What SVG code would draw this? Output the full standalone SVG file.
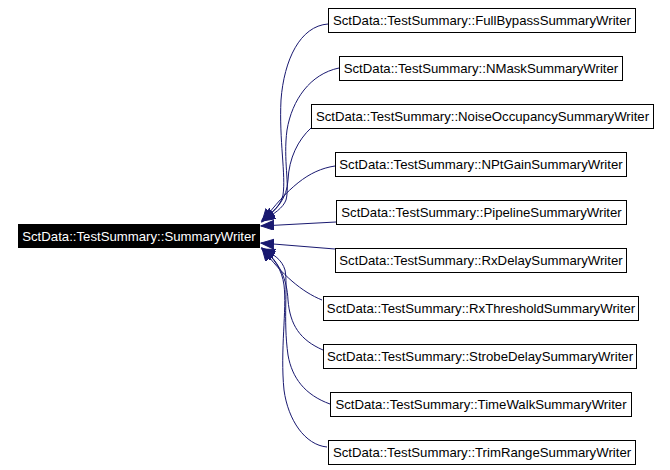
<svg xmlns="http://www.w3.org/2000/svg" width="670" height="470" viewBox="0 0 670 470">
<style>
.edge{fill:none;stroke:#191970;stroke-width:1}
.box{fill:#ffffff;stroke:#000000;stroke-width:1}
.lbl{font-family:"Liberation Sans",Arial,sans-serif;font-size:13.2px;fill:#000000;text-anchor:middle}
.root{fill:#000000;stroke:#000000;stroke-width:1}
.rlbl{font-family:"Liberation Sans",Arial,sans-serif;font-size:13.2px;fill:#ffffff;text-anchor:middle}
</style>
<defs>
<marker id="arr" markerUnits="userSpaceOnUse" markerWidth="16" markerHeight="12" refX="13" refY="5" orient="auto">
<path d="M0,0 L13,5 L0,10 z" fill="#191970" stroke="#191970" stroke-width="1"/>
</marker>
</defs>
<rect width="670" height="470" fill="#ffffff"/>
<g id="connectors">
<path class="edge" marker-end="url(#arr)" d="M328,24 C300,26 284,60 281,100 C279,140 286,175 283,195 C281,205 273,212 262,220"/>
<path class="edge" marker-end="url(#arr)" d="M339,68 C310,74 292,100 287,130 C283,160 290,185 286,200 C283,208 274,214 262,221"/>
<path class="edge" marker-end="url(#arr)" d="M311,128 C298,140 289,158 288,180 C287,198 277,210 262,221"/>
<path class="edge" marker-end="url(#arr)" d="M335,166 C308,170 288,188 262,222"/>
<path class="edge" marker-end="url(#arr)" d="M336,222 L261,226"/>
<path class="edge" marker-end="url(#arr)" d="M335,249 L261,243"/>
<path class="edge" marker-end="url(#arr)" d="M322,300 C302,292 282,275 262,248"/>
<path class="edge" marker-end="url(#arr)" d="M323,350 C300,340 290,325 288,300 C287,280 280,262 262,248"/>
<path class="edge" marker-end="url(#arr)" d="M330,404 C305,395 292,378 288,355 C283,320 288,285 285,270 C282,260 274,254 262,249"/>
<path class="edge" marker-end="url(#arr)" d="M327,447 C305,445 288,420 284,390 C280,350 287,310 284,285 C282,270 274,257 262,249"/>
</g>
<g id="SummaryWriter">
<rect class="root" x="18.5" y="224.5" width="241" height="23"/>
<text class="rlbl" x="139" y="241">SctData::TestSummary::SummaryWriter</text>
</g>
<g id="FullBypassSummaryWriter">
<rect class="box" x="328.5" y="8.5" width="307" height="24"/>
<text class="lbl" x="482" y="25">SctData::TestSummary::FullBypassSummaryWriter</text>
</g>
<g id="NMaskSummaryWriter">
<rect class="box" x="339.5" y="56.5" width="283" height="24"/>
<text class="lbl" x="481" y="73">SctData::TestSummary::NMaskSummaryWriter</text>
</g>
<g id="NoiseOccupancySummaryWriter">
<rect class="box" x="311.5" y="104.5" width="342" height="24"/>
<text class="lbl" x="482.5" y="121">SctData::TestSummary::NoiseOccupancySummaryWriter</text>
</g>
<g id="NPtGainSummaryWriter">
<rect class="box" x="335.5" y="152.5" width="291" height="24"/>
<text class="lbl" x="481" y="169">SctData::TestSummary::NPtGainSummaryWriter</text>
</g>
<g id="PipelineSummaryWriter">
<rect class="box" x="336.5" y="200.5" width="290" height="24"/>
<text class="lbl" x="481.5" y="217">SctData::TestSummary::PipelineSummaryWriter</text>
</g>
<g id="RxDelaySummaryWriter">
<rect class="box" x="335.5" y="248.5" width="291" height="24"/>
<text class="lbl" x="481" y="265">SctData::TestSummary::RxDelaySummaryWriter</text>
</g>
<g id="RxThresholdSummaryWriter">
<rect class="box" x="323.5" y="296.5" width="315" height="24"/>
<text class="lbl" x="481" y="313">SctData::TestSummary::RxThresholdSummaryWriter</text>
</g>
<g id="StrobeDelaySummaryWriter">
<rect class="box" x="323.5" y="344.5" width="313" height="24"/>
<text class="lbl" x="480" y="361">SctData::TestSummary::StrobeDelaySummaryWriter</text>
</g>
<g id="TimeWalkSummaryWriter">
<rect class="box" x="330.5" y="392.5" width="301" height="24"/>
<text class="lbl" x="481" y="409">SctData::TestSummary::TimeWalkSummaryWriter</text>
</g>
<g id="TrimRangeSummaryWriter">
<rect class="box" x="328.5" y="440.5" width="307" height="24"/>
<text class="lbl" x="482" y="457">SctData::TestSummary::TrimRangeSummaryWriter</text>
</g>
</svg>
